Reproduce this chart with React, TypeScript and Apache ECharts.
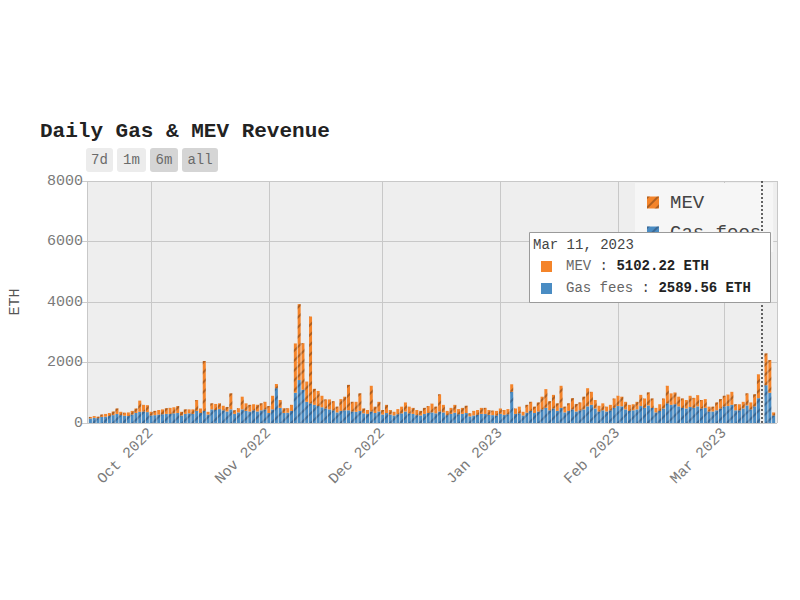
import React, { useEffect, useRef } from "react";
import * as echarts from "echarts";

// Daily values, Sep 15 2022 .. Mar 14 2023 (one entry per day)
const firstDay = [2022, 8, 15]; // year, monthIndex, day
const gasFees: (number | null)[] = [
  // Sep 15-30
  150, 170, 160, 200, 210, 230, 260, 300, 260, 240, 230, 280, 330, 370, 380, 360,
  // Oct
  250, 260, 280, 290, 300, 300, 320, 330, 250, 300, 320, 300, 400, 330, 400, 280,
  450, 430, 460, 420, 380, 450, 300, 350, 450, 400, 380, 420, 380, 420, 450,
  // Nov
  330, 450, 1150, 500, 330, 340, 400, 1000, 1420, 1100, 700, 650, 600, 560, 520,
  480, 450, 420, 350, 400, 420, 420, 380, 370, 400, 320, 300, 380, 330, 380,
  // Dec
  280, 330, 280, 250, 290, 320, 380, 320, 300, 260, 250, 300, 330, 350, 320, 380,
  350, 260, 300, 340, 290, 300, 330, 220, 250, 270, 300, 300, 270, 260, 250,
  // Jan
  300, 270, 290, 1030, 300, 320, 250, 340, 400, 330, 380, 450, 500, 420, 480, 400,
  500, 350, 400, 450, 380, 420, 450, 550, 600, 480, 380, 420, 380, 420, 500,
  // Feb
  560, 550, 450, 400, 420, 450, 560, 500, 580, 500, 350, 400, 480, 650, 600, 620,
  550, 500, 480, 530, 500, 550, 480, 500, 380, 380, 420, 480,
  // Mar 1-14
  550, 560, 600, 420, 420, 480, 580, 450, 550, 820, null, 1250, 1000, 250,
];
const mevRevenue: (number | null)[] = [
  // Sep 15-30
  50, 60, 50, 80, 90, 100, 120, 180, 110, 100, 120, 120, 150, 370, 220, 230,
  // Oct
  120, 140, 150, 160, 190, 200, 200, 230, 120, 150, 130, 150, 360, 150, 1650, 90,
  200, 200, 190, 150, 150, 530, 120, 140, 420, 250, 220, 200, 220, 230, 250,
  // Nov
  230, 450, 140, 260, 160, 150, 200, 1630, 2510, 1540, 670, 2870, 530, 500, 380,
  300, 330, 300, 190, 390, 450, 840, 320, 330, 580, 160, 130, 850, 210, 320,
  // Dec
  150, 270, 150, 120, 170, 220, 300, 220, 200, 170, 150, 200, 230, 290, 220, 570,
  250, 140, 200, 260, 170, 200, 240, 100, 150, 160, 200, 200, 160, 150, 150,
  // Jan
  180, 160, 170, 250, 180, 220, 120, 260, 300, 210, 300, 420, 620, 300, 450, 250,
  730, 190, 250, 370, 250, 260, 420, 600, 430, 280, 190, 230, 160, 180, 310,
  // Feb
  340, 320, 250, 200, 200, 250, 370, 310, 430, 310, 150, 220, 330, 580, 380, 390,
  320, 310, 280, 370, 330, 370, 280, 290, 160, 160, 260, 310,
  // Mar 1-14
  350, 380, 430, 200, 200, 220, 400, 230, 400, 790, null, 1050, 1080, 100,
];
const yTicks = [0, 2000, 4000, 6000, 8000];
const monthNames = ["Jan", "Feb", "Mar", "Apr", "May", "Jun", "Jul", "Aug", "Sep", "Oct", "Nov", "Dec"];
const rangeButtons = ["7d", "1m", "6m", "all"];
const hoverDate = [2023, 2, 11];
const hoverLabel = "Mar 11, 2023";
const hoverMev = 5102.22;
const hoverGas = 2589.56;

const MEV_COLOR = "#f4842a";
const GAS_COLOR = "#4a8cc3";
const FONT = "Liberation Mono, Courier New, monospace";

export default function App() {
  const ref = useRef<HTMLDivElement>(null);
  useEffect(() => {
    if (!ref.current) return;
    const chart = echarts.init(ref.current, undefined, { renderer: "svg" });
    const dayTime = (i: number) => new Date(firstDay[0], firstDay[1], firstDay[2] + i).getTime();
    const gasData = gasFees.map((v, i) => [dayTime(i), v == null ? "-" : v]);
    const mevData = mevRevenue.map((v, i) => [dayTime(i), v == null ? "-" : v]);
    const minT = new Date(firstDay[0], firstDay[1], firstDay[2] - 1, 12).getTime();
    const maxT = new Date(firstDay[0], firstDay[1], firstDay[2] + gasFees.length - 1, 12).getTime();
    const hoverT = new Date(hoverDate[0], hoverDate[1], hoverDate[2]).getTime();
    const decal = (c: string) => ({
      symbol: "rect",
      symbolSize: 1,
      color: c,
      dashArrayX: [1, 0],
      dashArrayY: [2, 5],
      rotation: -Math.PI / 4,
    });

    const buttonWidths = [27, 29, 28, 36];
    const buttonX = [86, 117, 150, 182];
    const buttons = rangeButtons.map((b, i) => ({
      type: "group",
      left: buttonX[i],
      top: 148,
      children: [
        {
          type: "rect",
          shape: { x: 0, y: 0, width: buttonWidths[i], height: 24, r: 3 },
          style: { fill: i >= 2 ? "#d5d5d5" : "#ececec" },
        },
        {
          type: "text",
          x: buttonWidths[i] / 2,
          y: 12,
          style: {
            text: b,
            font: `14px ${FONT}`,
            fill: "#6a6a6a",
            align: "center",
            verticalAlign: "middle",
          },
        },
      ],
    }));

    const fmt = (n: number) => n.toFixed(2) + " ETH";
    const Z = 100;

    chart.setOption({
      animation: false,
      backgroundColor: "#ffffff",
      textStyle: { fontFamily: FONT },
      title: {
        text: "Daily Gas & MEV Revenue",
        left: 35,
        top: 116,
        textStyle: { fontFamily: FONT, fontSize: 21, fontWeight: "bold", color: "#222" },
      },
      legend: {
        orient: "vertical",
        left: 635,
        top: 183,
        z: 3,
        padding: [10, 12, 10, 12],
        backgroundColor: "#f6f6f6",
        icon: "rect",
        itemWidth: 12,
        itemHeight: 12,
        itemGap: 11,
        data: ["MEV", "Gas fees"],
        textStyle: { fontFamily: FONT, fontSize: 19, color: "#444", padding: [0, 0, 0, 6] },
      },
      grid: {
        left: 86,
        right: 23,
        top: 181,
        bottom: 177,
        show: true,
        backgroundColor: "#eeeeee",
        borderWidth: 0,
      },
      xAxis: {
        type: "time",
        min: minT,
        max: maxT,
        splitNumber: 6,
        minInterval: 28 * 86400000,
        axisLine: { show: false },
        axisTick: { show: false },
        splitLine: { show: true, lineStyle: { color: "#c8c8c8", width: 1 } },
        axisLabel: {
          rotate: 45,
          margin: 8,
          fontFamily: FONT,
          fontSize: 15,
          color: "#7a7a7a",
          formatter: (v: number) => {
            const d = new Date(v);
            return monthNames[d.getMonth()] + " " + d.getFullYear();
          },
        },
      },
      yAxis: {
        type: "value",
        min: yTicks[0],
        max: yTicks[yTicks.length - 1],
        interval: yTicks[1] - yTicks[0],
        name: "ETH",
        nameLocation: "middle",
        nameGap: 64,
        nameTextStyle: { fontFamily: FONT, fontSize: 15, color: "#555" },
        axisLine: { show: false },
        axisTick: { show: true, length: 5, lineStyle: { color: "#cccccc" } },
        splitLine: { lineStyle: { color: "#c8c8c8", width: 1 } },
        axisLabel: {
          fontFamily: FONT,
          fontSize: 15,
          color: "#7a7a7a",
          margin: 4,
          formatter: (v: number) => String(v),
        },
      },
      series: [
        {
          name: "Gas fees",
          type: "bar",
          stack: "total",
          barWidth: 3,
          data: gasData,
          itemStyle: { color: GAS_COLOR, decal: decal("rgba(40,60,90,0.45)") },
        },
        {
          name: "MEV",
          type: "bar",
          stack: "total",
          barWidth: 3,
          data: mevData,
          itemStyle: { color: MEV_COLOR, decal: decal("rgba(90,50,20,0.45)") },
          markLine: {
            silent: true,
            symbol: "none",
            label: { show: false },
            lineStyle: { color: "#333", type: [2, 2], width: 1.5 },
            data: [{ xAxis: hoverT }],
          },
        },
      ],
      graphic: [
        ...buttons,
        {
          type: "rect",
          z: Z,
          left: 529,
          top: 232,
          shape: { x: 0, y: 0, width: 241, height: 70 },
          style: { fill: "#ffffff", stroke: "#9a9a9a", lineWidth: 1 },
        },
        {
          type: "text",
          z: Z + 1,
          left: 533,
          top: 238,
          style: { text: hoverLabel, font: `14px ${FONT}`, fill: "#444" },
        },
        {
          type: "rect",
          z: Z + 1,
          left: 541,
          top: 261,
          shape: { x: 0, y: 0, width: 11, height: 11 },
          style: { fill: MEV_COLOR },
        },
        {
          type: "text",
          z: Z + 1,
          left: 566,
          top: 259,
          style: {
            text: "{a|MEV} : {b|" + fmt(hoverMev) + "}",
            rich: {
              a: { font: `14px ${FONT}`, fill: "#666" },
              b: { font: `bold 14px ${FONT}`, fill: "#222" },
            },
            font: `14px ${FONT}`,
            fill: "#444",
          },
        },
        {
          type: "rect",
          z: Z + 1,
          left: 541,
          top: 283,
          shape: { x: 0, y: 0, width: 11, height: 11 },
          style: { fill: GAS_COLOR },
        },
        {
          type: "text",
          z: Z + 1,
          left: 566,
          top: 281,
          style: {
            text: "{a|Gas fees} : {b|" + fmt(hoverGas) + "}",
            rich: {
              a: { font: `14px ${FONT}`, fill: "#666" },
              b: { font: `bold 14px ${FONT}`, fill: "#222" },
            },
            font: `14px ${FONT}`,
            fill: "#444",
          },
        },
      ],
    });
    return () => chart.dispose();
  }, []);
  return <div ref={ref} style={{ width: 800, height: 600, position: "absolute", left: 0, top: 0 }} />;
}
